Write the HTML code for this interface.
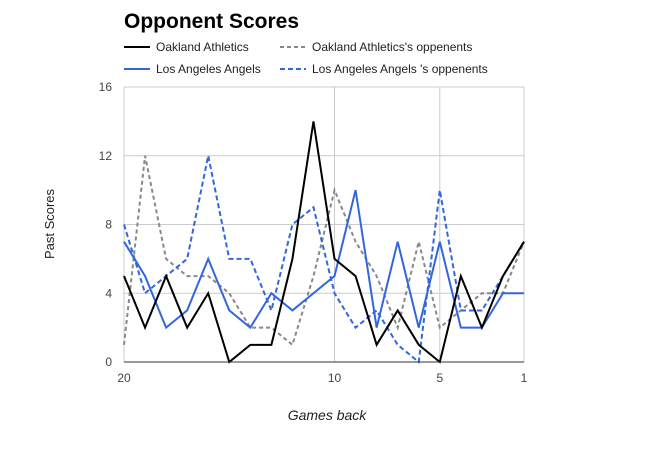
<!DOCTYPE html>
<html><head><meta charset="utf-8"><style>
body{margin:0;background:#fff;font-family:"Liberation Sans",Arial,sans-serif}
svg text{font-family:"Liberation Sans",Arial,sans-serif}
</style></head><body>
<svg id="c" width="647" height="448">
<text x="124" y="28" font-size="21" font-weight="bold" fill="#000">Opponent Scores</text>
<g id="legend"></g>
<g id="grid"></g><g id="series"></g><g id="axes"></g>
<text x="327" y="420" font-size="14" font-style="italic" text-anchor="middle" fill="#222">Games back</text>
<text transform="translate(54,224) rotate(-90)" font-size="13" text-anchor="middle" fill="#222">Past Scores</text>
</svg>
<script>
const games=[20,19,18,17,16,15,14,13,12,11,10,9,8,7,6,5,4,3,2,1];
const oakland=[5,2,5,2,4,0,1,1,6,14,6,5,1,3,1,0,5,2,5,7];
const oaklandOpp=[1,12,6,5,5,4,2,2,1,5,10,7,5,2,7,2,3,4,4,7];
const angels=[7,5,2,3,6,3,2,4,3,4,5,10,2,7,2,7,2,2,4,4];
const angelsOpp=[8,4,5,6,12,6,6,3,8,9,4,2,3,1,0,10,3,3,5,7];
const yTicks=[0,4,8,12,16];
const xTicks=[20,10,5,1];
const names=["Oakland Athletics","Oakland Athletics's oppenents","Los Angeles Angels","Los Angeles Angels 's oppenents"];
const NS="http://www.w3.org/2000/svg";
const X=g=>124+(20-g)*(400/19);
const Y=v=>362-v*(275/16);
function mk(t,a,p){const e=document.createElementNS(NS,t);for(const k in a)e.setAttribute(k,a[k]);p.appendChild(e);return e;}
const grid=document.getElementById('grid'),axes=document.getElementById('axes'),ser=document.getElementById('series'),leg=document.getElementById('legend');
yTicks.forEach(v=>{
 const l=mk('line',{x1:124,x2:524,y1:Y(v),y2:Y(v),stroke:v===0?'#333':'#ccc','stroke-width':1},v===0?axes:grid);
 
 
 const t=mk('text',{x:112,y:Y(v)+4,'font-size':12,'text-anchor':'end',fill:'#444'},axes);t.textContent=v;
 
 
});
mk('line',{x1:124,x2:124,y1:Y(16),y2:Y(0),stroke:'#ccc'},grid);
xTicks.forEach(g=>{
 if(g!==20){const l=mk('line',{x1:X(g),x2:X(g),y1:Y(16),y2:Y(0),stroke:'#ccc'},grid);
 
 }
 const t=mk('text',{x:X(g),y:382,'font-size':12,'text-anchor':'middle',fill:'#444'},axes);t.textContent=g;
 
 
});
const styles=[{c:'#000',d:''},{c:'#888',d:'4,3'},{c:'#3366dd',d:''},{c:'#3366dd',d:'5,3'}];
const data=[oakland,oaklandOpp,angels,angelsOpp];
const order=[1,3,2,0];
order.forEach(i=>{
 const p=mk('polyline',{points:data[i].map((v,j)=>X(games[j])+','+Y(v)).join(' '),fill:'none',stroke:styles[i].c,'stroke-width':2,'stroke-dasharray':styles[i].d},ser);
 
 
});
const lp=[[124,47],[280,47],[124,69],[280,69]];
names.forEach((n,i)=>{
 const g=mk('g',{},leg);
 
 
 mk('line',{x1:lp[i][0],x2:lp[i][0]+26,y1:lp[i][1],y2:lp[i][1],stroke:styles[i].c,'stroke-width':2,'stroke-dasharray':styles[i].d},g);
 const t=mk('text',{x:lp[i][0]+32,y:lp[i][1]+4,'font-size':12,fill:'#222'},g);t.textContent=n;
});
</script>
</body></html>
